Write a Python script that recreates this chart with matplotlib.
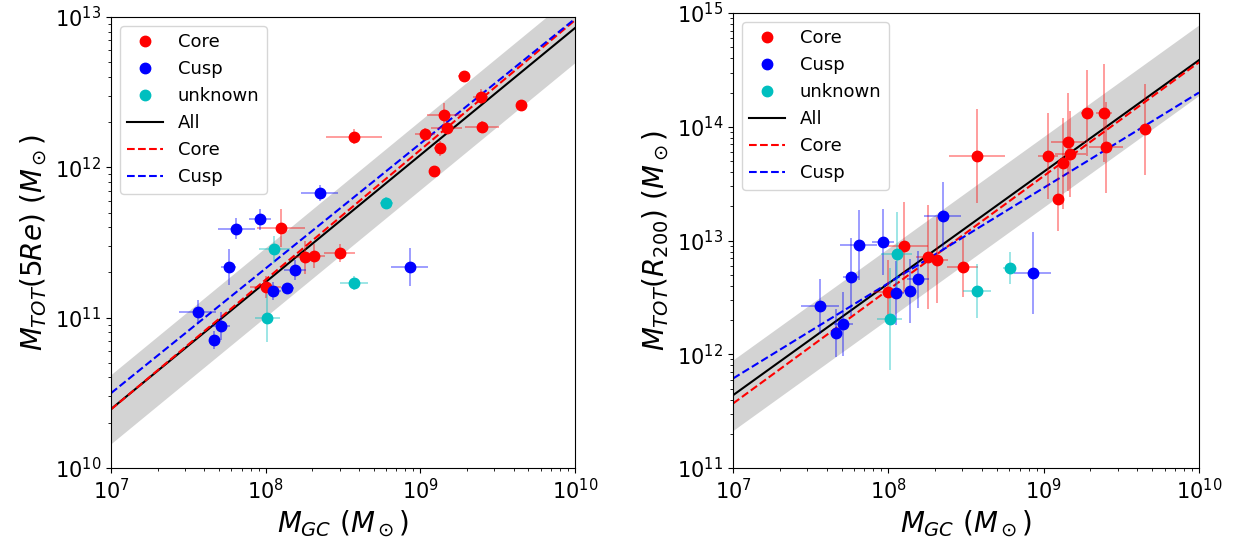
import numpy as np
import matplotlib
matplotlib.use("Agg")
import matplotlib.pyplot as plt

# log10 masses (x shared by both panels), errors in dex
core_logx = [9.28, 9.39, 9.65, 9.155, 9.17, 9.03, 9.40, 9.125, 9.09, 8.57, 8.10, 8.255, 8.315, 8.48, 8.00]
core_xerr = [0.04, 0.05, 0.03, 0.11, 0.10, 0.065, 0.11, 0.04, 0.03, 0.18, 0.155, 0.08, 0.07, 0.10, 0.10]
core_y5 = [12.607, 12.468, 12.414, 12.348, 12.261, 12.222, 12.268, 12.128, 11.975, 12.202, 11.596, 11.403, 11.410, 11.43, 11.204]
core_y5err = [0.03, 0.05, 0.03, 0.08, 0.04, 0.04, 0.04, 0.05, 0.03, 0.05, 0.125, 0.11, 0.08, 0.06, 0.07]
core_y200 = [14.12, 14.12, 13.98, 13.865, 13.76, 13.742, 13.82, 13.68, 13.364, 13.742, 12.95, 12.854, 12.828, 12.766, 12.546]
core_y200err = [0.38, 0.43, 0.40, 0.43, 0.38, 0.38, 0.40, 0.40, 0.28, 0.41, 0.39, 0.46, 0.38, 0.26, 0.28]

cusp_logx = [8.35, 7.965, 7.81, 7.76, 8.19, 8.93, 8.05, 8.14, 7.56, 7.71, 7.665]
cusp_xerr = [0.12, 0.07, 0.12, 0.05, 0.07, 0.12, 0.05, 0.04, 0.12, 0.06, 0.03]
cusp_y5 = [11.829, 11.656, 11.590, 11.337, 11.317, 11.337, 11.177, 11.197, 11.037, 10.944, 10.851]
cusp_y5err = [0.055, 0.07, 0.07, 0.12, 0.065, 0.125, 0.06, 0.035, 0.08, 0.095, 0.06]
cusp_y200 = [13.215, 12.986, 12.96, 12.678, 12.66, 12.713, 12.537, 12.555, 12.42, 12.265, 12.186]
cusp_y200err = [0.30, 0.29, 0.31, 0.34, 0.25, 0.36, 0.28, 0.28, 0.24, 0.28, 0.21]

unk_logx = [8.78, 8.055, 8.57, 8.01]
unk_xerr = [0.04, 0.10, 0.09, 0.08]
unk_y5 = [11.762, 11.456, 11.23, 10.997]
unk_y5err = [0.04, 0.09, 0.045, 0.16]
unk_y200 = [12.757, 12.88, 12.555, 12.31]
unk_y200err = [0.14, 0.37, 0.24, 0.45]

# fits: (log M at M_GC=1e7, slope)
fit_5re = {"All": (10.392, 0.845), "Core": (10.39, 0.863), "Cusp": (10.498, 0.83)}
fit_200 = {"All": (11.64, 0.982), "Core": (11.567, 1.0), "Cusp": (11.787, 0.838)}
scatter_5re = 0.23
scatter_200 = 0.31


def lin(logv, err):
    v = 10 ** np.array(logv)
    e = np.array(err)
    return v, [v - 10 ** (np.array(logv) - e), 10 ** (np.array(logv) + e) - v]


def panel(ax, ys, yerrs, fits, scat, ylim, ylabel):
    xx = np.logspace(7, 10, 50)
    a, b = fits["All"]
    yall = a + b * (np.log10(xx) - 7)
    ax.fill_between(xx, 10 ** (yall - scat), 10 ** (yall + scat), color="lightgray", lw=0, zorder=0)
    handles = []
    for logx, xerr, y, ye, c, lab in zip(
            [core_logx, cusp_logx, unk_logx], [core_xerr, cusp_xerr, unk_xerr],
            ys, yerrs, ["r", "b", "c"], ["Core", "Cusp", "unknown"]):
        x, xe = lin(logx, xerr)
        yv, yee = lin(y, ye)
        ax.errorbar(x, yv, xerr=xe, yerr=yee, fmt="none", ecolor=c, alpha=0.45, elinewidth=1.2, zorder=2)
        h, = ax.plot(x, yv, "o", color=c, ms=7.5, label=lab, zorder=3)
        handles.append(h)
    for key, sty in [("All", "k-"), ("Core", "r--"), ("Cusp", "b--")]:
        a, b = fits[key]
        h, = ax.plot(xx, 10 ** (a + b * (np.log10(xx) - 7)), sty, lw=1.5, label=key, zorder=1)
        handles.append(h)
    ax.set_xscale("log")
    ax.set_yscale("log")
    ax.set_xlim(1e7, 1e10)
    ax.set_ylim(*ylim)
    ax.tick_params(labelsize=15)
    ax.set_xlabel(r"$M_{GC}\ (M_\odot)$", fontsize=20)
    ax.set_ylabel(ylabel, fontsize=20)
    ax.legend(handles=handles, loc="upper left", fontsize=13, numpoints=1)


fig = plt.figure(figsize=(12.38, 5.43), dpi=100)
ax1 = fig.add_axes([0.0897, 0.1381, 0.3748, 0.8306])
ax2 = fig.add_axes([0.5921, 0.1381, 0.3764, 0.8379])

panel(ax1, [core_y5, cusp_y5, unk_y5], [core_y5err, cusp_y5err, unk_y5err],
      fit_5re, scatter_5re, (1e10, 1e13), r"$M_{TOT}(5Re)\ (M_\odot)$")
panel(ax2, [core_y200, cusp_y200, unk_y200], [core_y200err, cusp_y200err, unk_y200err],
      fit_200, scatter_200, (1e11, 1e15), r"$M_{TOT}(R_{200})\ (M_\odot)$")

fig.savefig("out.png", dpi=100)
